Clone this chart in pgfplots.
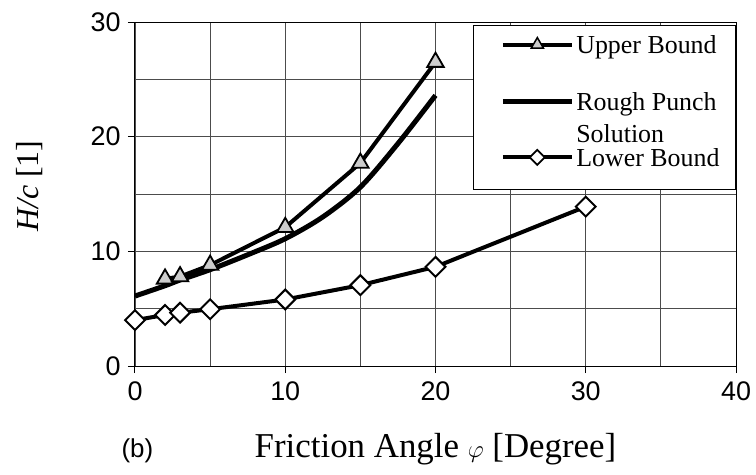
\documentclass[border=0pt]{standalone}
\usepackage{fontspec}
\setmainfont{Liberation Serif}
\newfontfamily\arial{Liberation Sans}
\usepackage{pgfplots}
\pgfplotsset{compat=1.18}

\definecolor{gridgray}{gray}{0.3}
\definecolor{markgray}{gray}{0.8}

\begin{document}
\begin{tikzpicture}
\begin{axis}[
  name=main,
  scale only axis, width=601bp, height=344bp,
  xmin=0, xmax=40, ymin=0, ymax=30,
  xtick={0,10,20,30,40}, ytick={0,10,20,30},
  minor xtick={5,15,25,35}, minor ytick={5,15,25},
  grid=both,
  major grid style={gridgray, line width=0.8bp},
  minor grid style={gridgray, line width=0.8bp},
  axis line style={black, line width=1bp},
  tick pos=left, tick align=outside,
  major tick length=7bp, minor tick length=0pt,
  tick style={black, line width=1bp},
  /pgf/number format/assume math mode=true,
  tick label style={font=\arial\fontsize{27}{27}\selectfont},
  xticklabel style={yshift=-5bp},
  yticklabel style={xshift=-4bp},
  xlabel={Friction Angle $\varphi$ [Degree]},
  xlabel style={font=\fontsize{35}{35}\selectfont,
    at={(axis description cs:0.5,-0.267)}, anchor=base},
  ylabel={\textit{H/c} [1]},
  ylabel style={font=\fontsize{32}{32}\selectfont,
    at={(axis description cs:-0.175,0.523)}, anchor=center},
  clip=false,
  legend image code/.code={%
    \path (-13bp,0bp);
    \draw[mark repeat=2, mark phase=2, #1]
      plot coordinates {(0bp,0bp) (34.5bp,0bp) (69bp,0bp)};},
  legend cell align=left,
  legend style={at={(axis description cs:1,0.991)}, anchor=north east,
    draw=black, line width=1bp, fill=white,
    font=\fontsize{26}{32}\selectfont,
    inner xsep=14bp, inner ysep=8bp, row sep=25bp,
    cells={anchor=base west},
    nodes={inner sep=2bp, yshift=-9bp, text depth=}},
]

% rough punch solution (smooth curve)
\addplot[forget plot, black, line width=5bp, smooth] coordinates {
  (0,6.1) (2,7.0) (3,7.5) (5,8.4) (7.5,9.7) (10,11.1)
  (12.5,13.0) (15,15.6) (17.5,19.4) (20,23.6)
};

% upper bound
\addplot[forget plot, black, line width=4bp, mark=triangle*, mark size=9.5bp,
  mark options={fill=markgray, draw=black, line width=1.8bp}] coordinates {
  (2,7.6) (3,7.8) (5,8.8) (10,12.1) (15,17.7) (20,26.5)
};

% lower bound
\addplot[forget plot, black, line width=4bp, mark=square*, mark size=7bp,
  mark options={fill=white, draw=black, line width=2bp, rotate=45}] coordinates {
  (0,4.0) (2,4.45) (3,4.65) (5,4.95) (10,5.8) (15,7.05) (20,8.65) (30,13.9)
};

\addlegendimage{black, line width=4bp, mark=triangle*, mark size=7bp,
  mark options={fill=markgray, draw=black, line width=1.5bp}}
\addlegendentry{Upper Bound}
\addlegendimage{black, line width=5bp}
\addlegendentry{\raisebox{0pt}[\height][9bp]{\begin{tabular}[t]{@{}l@{}}Rough Punch\\Solution\end{tabular}}}
\addlegendimage{black, line width=4bp, mark=square*, mark size=5.3bp,
  mark options={fill=white, draw=black, line width=1.8bp, rotate=45}}
\addlegendentry{Lower Bound\rule[-13bp]{0pt}{0pt}}

\node[font=\arial\fontsize{26}{26}\selectfont, anchor=base]
  at (axis description cs:0.004,-0.267) {(b)};
\end{axis}
\pgfresetboundingbox
\path ([shift={(-135bp,-109bp)}]main.south west)
  rectangle ([shift={(20bp,22bp)}]main.north east);
\end{tikzpicture}
\end{document}
